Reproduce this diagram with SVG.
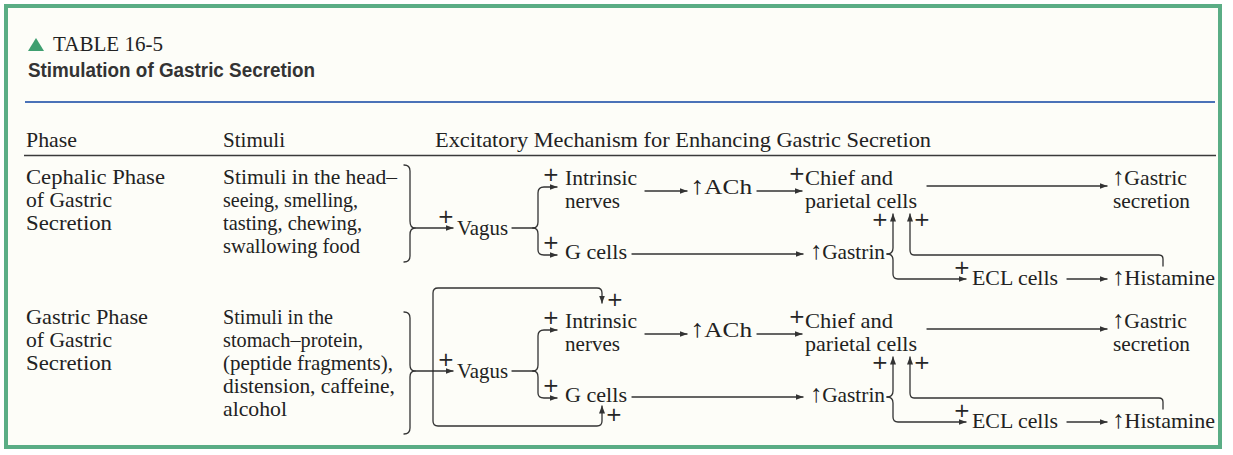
<svg xmlns="http://www.w3.org/2000/svg" width="1233" height="455" viewBox="0 0 1233 455">
<defs>
<style>
.t{font-family:"Liberation Serif","Times New Roman",serif;font-size:22px;fill:#222}
.up{font-size:25px}
.p{font-family:"DejaVu Sans","Liberation Sans",sans-serif;font-size:20px;fill:#262626;text-anchor:middle}
.h{font-family:"Liberation Sans",Arial,sans-serif;font-size:19.5px;font-weight:bold;fill:#333}
.ln{fill:none;stroke:#333;stroke-width:1.3;stroke-linecap:round;stroke-linejoin:round}
.ar{marker-end:url(#head)}
</style>
<marker id="head" markerUnits="userSpaceOnUse" markerWidth="8" markerHeight="6" refX="7.5" refY="3" orient="auto">
<path d="M0,0 L8,3 L0,6 z" fill="#333"/>
</marker>
</defs>

<!-- page and frame -->
<rect x="0" y="0" width="1233" height="455" fill="#ffffff"/>
<rect x="6" y="6" width="1214" height="441" fill="#fdfdf8" stroke="#5aad85" stroke-width="4"/>

<!-- title block -->
<g id="title">
<polygon points="28,51 44,51 36,38" fill="#3f9f70"/>
<text class="t" x="53" y="51" textLength="110" lengthAdjust="spacingAndGlyphs">TABLE 16-5</text>
<text class="h" x="28" y="77" textLength="287" lengthAdjust="spacingAndGlyphs">Stimulation of Gastric Secretion</text>
<line x1="25" y1="102" x2="1215" y2="102" stroke="#4a72b8" stroke-width="2"/>
</g>

<!-- column headings -->
<g id="header">
<text class="t" x="26" y="147" textLength="51" lengthAdjust="spacingAndGlyphs">Phase</text>
<text class="t" x="223" y="147" textLength="62" lengthAdjust="spacingAndGlyphs">Stimuli</text>
<text class="t" x="435" y="147" textLength="496" lengthAdjust="spacingAndGlyphs">Excitatory Mechanism for Enhancing Gastric Secretion</text>
<line x1="24" y1="155.5" x2="1216" y2="155.5" stroke="#3a3a3a" stroke-width="1.6"/>
</g>

<!-- ===== cephalic phase ===== -->
<g id="phase-cephalic">
<text class="t" x="26" y="184" textLength="139" lengthAdjust="spacingAndGlyphs">Cephalic Phase</text>
<text class="t" x="26" y="207" textLength="86" lengthAdjust="spacingAndGlyphs">of Gastric</text>
<text class="t" x="26" y="230" textLength="86" lengthAdjust="spacingAndGlyphs">Secretion</text>
</g>
<g id="stimuli-cephalic">
<text class="t" x="223" y="184" textLength="174" lengthAdjust="spacingAndGlyphs">Stimuli in the head–</text>
<text class="t" x="223" y="207" textLength="135" lengthAdjust="spacingAndGlyphs">seeing, smelling,</text>
<text class="t" x="223" y="230" textLength="139" lengthAdjust="spacingAndGlyphs">tasting, chewing,</text>
<text class="t" x="223" y="253" textLength="137" lengthAdjust="spacingAndGlyphs">swallowing food</text>
</g>
<g id="vagus-1"><text class="t" x="457" y="235" textLength="51" lengthAdjust="spacingAndGlyphs">Vagus</text></g>
<g id="intrinsic-1">
<text class="t" x="565" y="185" textLength="72" lengthAdjust="spacingAndGlyphs">Intrinsic</text>
<text class="t" x="565" y="208" textLength="55" lengthAdjust="spacingAndGlyphs">nerves</text>
</g>
<g id="gcells-1"><text class="t" x="565" y="259" textLength="62" lengthAdjust="spacingAndGlyphs">G cells</text></g>
<g id="ach-1"><text class="t" x="690" y="194" textLength="62" lengthAdjust="spacingAndGlyphs"><tspan class="up">↑</tspan>ACh</text></g>
<g id="chief-1">
<text class="t" x="805" y="185" textLength="88" lengthAdjust="spacingAndGlyphs">Chief and</text>
<text class="t" x="805" y="208" textLength="112" lengthAdjust="spacingAndGlyphs">parietal cells</text>
</g>
<g id="secretion-1">
<text class="t" x="1112" y="185" textLength="75" lengthAdjust="spacingAndGlyphs"><tspan class="up">↑</tspan>Gastric</text>
<text class="t" x="1113" y="208" textLength="77" lengthAdjust="spacingAndGlyphs">secretion</text>
</g>
<g id="gastrin-1"><text class="t" x="810" y="259" textLength="75" lengthAdjust="spacingAndGlyphs"><tspan class="up">↑</tspan>Gastrin</text></g>
<g id="ecl-1"><text class="t" x="972" y="285" textLength="86" lengthAdjust="spacingAndGlyphs">ECL cells</text></g>
<g id="histamine-1"><text class="t" x="1112" y="285" textLength="103" lengthAdjust="spacingAndGlyphs"><tspan class="up">↑</tspan>Histamine</text></g>

<!-- ===== gastric phase ===== -->
<g id="phase-gastric">
<text class="t" x="26" y="324" textLength="122" lengthAdjust="spacingAndGlyphs">Gastric Phase</text>
<text class="t" x="26" y="347" textLength="86" lengthAdjust="spacingAndGlyphs">of Gastric</text>
<text class="t" x="26" y="370" textLength="86" lengthAdjust="spacingAndGlyphs">Secretion</text>
</g>
<g id="stimuli-gastric">
<text class="t" x="223" y="324" textLength="110" lengthAdjust="spacingAndGlyphs">Stimuli in the</text>
<text class="t" x="223" y="347" textLength="140" lengthAdjust="spacingAndGlyphs">stomach–protein,</text>
<text class="t" x="223" y="370" textLength="170" lengthAdjust="spacingAndGlyphs">(peptide fragments),</text>
<text class="t" x="223" y="393" textLength="172" lengthAdjust="spacingAndGlyphs">distension, caffeine,</text>
<text class="t" x="223" y="416" textLength="64" lengthAdjust="spacingAndGlyphs">alcohol</text>
</g>
<g id="vagus-2"><text class="t" x="457" y="378" textLength="51" lengthAdjust="spacingAndGlyphs">Vagus</text></g>
<g id="intrinsic-2">
<text class="t" x="565" y="328" textLength="72" lengthAdjust="spacingAndGlyphs">Intrinsic</text>
<text class="t" x="565" y="351" textLength="55" lengthAdjust="spacingAndGlyphs">nerves</text>
</g>
<g id="gcells-2"><text class="t" x="565" y="402" textLength="62" lengthAdjust="spacingAndGlyphs">G cells</text></g>
<g id="ach-2"><text class="t" x="690" y="337" textLength="62" lengthAdjust="spacingAndGlyphs"><tspan class="up">↑</tspan>ACh</text></g>
<g id="chief-2">
<text class="t" x="805" y="328" textLength="88" lengthAdjust="spacingAndGlyphs">Chief and</text>
<text class="t" x="805" y="351" textLength="112" lengthAdjust="spacingAndGlyphs">parietal cells</text>
</g>
<g id="secretion-2">
<text class="t" x="1112" y="328" textLength="75" lengthAdjust="spacingAndGlyphs"><tspan class="up">↑</tspan>Gastric</text>
<text class="t" x="1113" y="351" textLength="77" lengthAdjust="spacingAndGlyphs">secretion</text>
</g>
<g id="gastrin-2"><text class="t" x="810" y="402" textLength="75" lengthAdjust="spacingAndGlyphs"><tspan class="up">↑</tspan>Gastrin</text></g>
<g id="ecl-2"><text class="t" x="972" y="428" textLength="86" lengthAdjust="spacingAndGlyphs">ECL cells</text></g>
<g id="histamine-2"><text class="t" x="1112" y="428" textLength="103" lengthAdjust="spacingAndGlyphs"><tspan class="up">↑</tspan>Histamine</text></g>

<!-- connectors -->
<g id="connectors">
<!-- cephalic -->
<path class="ln" d="M404,165 C408,165 410,167 410,171 L410,221 C410,226 412,228 415,228 C412,228 410,230 410,235 L410,256 C410,260 408,262 404,262"/>
<path class="ln ar" d="M415,228 L453,228"/>
<path class="ln" d="M512,228 L533,228"/>
<path class="ln ar" d="M533,228 C537,228 538,226 538,222 L538,193 C538,189 540,187 544,187 L557,187"/>
<path class="ln ar" d="M533,228 C537,228 538,230 538,234 L538,250 C538,253 540,255 544,255 L557,255"/>
<path class="ln ar" d="M645,191 L687,191"/>
<path class="ln ar" d="M757,191 L802,191"/>
<path class="ln ar" d="M927,186 L1107,186"/>
<path class="ln ar" d="M632,254 L803,254"/>
<path class="ln ar" d="M887,254 C891,254 893,252 893,248 L893,214"/>
<path class="ln ar" d="M887,254 C891,254 893,256 893,260 L893,274 C893,277 895,279 898,279 L966,279"/>
<path class="ln ar" d="M1163,266 L1163,259 C1163,256 1162,255 1159,255 L914,255 C911,255 910,253 910,250 L910,214"/>
<path class="ln ar" d="M1067,279 L1107,279"/>
<!-- gastric -->
<path class="ln" d="M404,312 C408,312 410,314 410,318 L410,365 C410,369 412,371 415,371 C412,371 410,373 410,377 L410,428 C410,432 408,434 404,434"/>
<path class="ln ar" d="M415,371 L453,371"/>
<path class="ln ar" d="M433,371 L433,293 C433,290 435,288 438,288 L597,288 C600,288 602,290 602,293 L602,303"/>
<path class="ln ar" d="M433,371 L433,421 C433,424 435,426 438,426 L597,426 C600,426 602,424 602,421 L602,406"/>
<path class="ln" d="M512,371 L533,371"/>
<path class="ln ar" d="M533,371 C537,371 538,369 538,365 L538,336 C538,332 540,330 544,330 L557,330"/>
<path class="ln ar" d="M533,371 C537,371 538,373 538,377 L538,393 C538,396 540,398 544,398 L557,398"/>
<path class="ln ar" d="M645,334 L687,334"/>
<path class="ln ar" d="M757,334 L802,334"/>
<path class="ln ar" d="M927,329 L1107,329"/>
<path class="ln ar" d="M632,397 L803,397"/>
<path class="ln ar" d="M887,397 C891,397 893,395 893,391 L893,357"/>
<path class="ln ar" d="M887,397 C891,397 893,399 893,403 L893,417 C893,420 895,422 898,422 L966,422"/>
<path class="ln ar" d="M1163,409 L1163,402 C1163,399 1162,398 1159,398 L914,398 C911,398 910,396 910,393 L910,357"/>
<path class="ln ar" d="M1067,422 L1107,422"/>

<!-- stimulation signs -->
<g id="signs">
<text class="p" x="446" y="223">+</text>
<text class="p" x="551" y="181">+</text>
<text class="p" x="551" y="249">+</text>
<text class="p" x="797" y="180">+</text>
<text class="p" x="880" y="226">+</text>
<text class="p" x="922" y="226">+</text>
<text class="p" x="962" y="274">+</text>
<text class="p" x="446" y="366">+</text>
<text class="p" x="615" y="306">+</text>
<text class="p" x="614" y="421">+</text>
<text class="p" x="551" y="324">+</text>
<text class="p" x="551" y="392">+</text>
<text class="p" x="797" y="323">+</text>
<text class="p" x="880" y="369">+</text>
<text class="p" x="922" y="369">+</text>
<text class="p" x="962" y="417">+</text>
</g>
</g>
</svg>
